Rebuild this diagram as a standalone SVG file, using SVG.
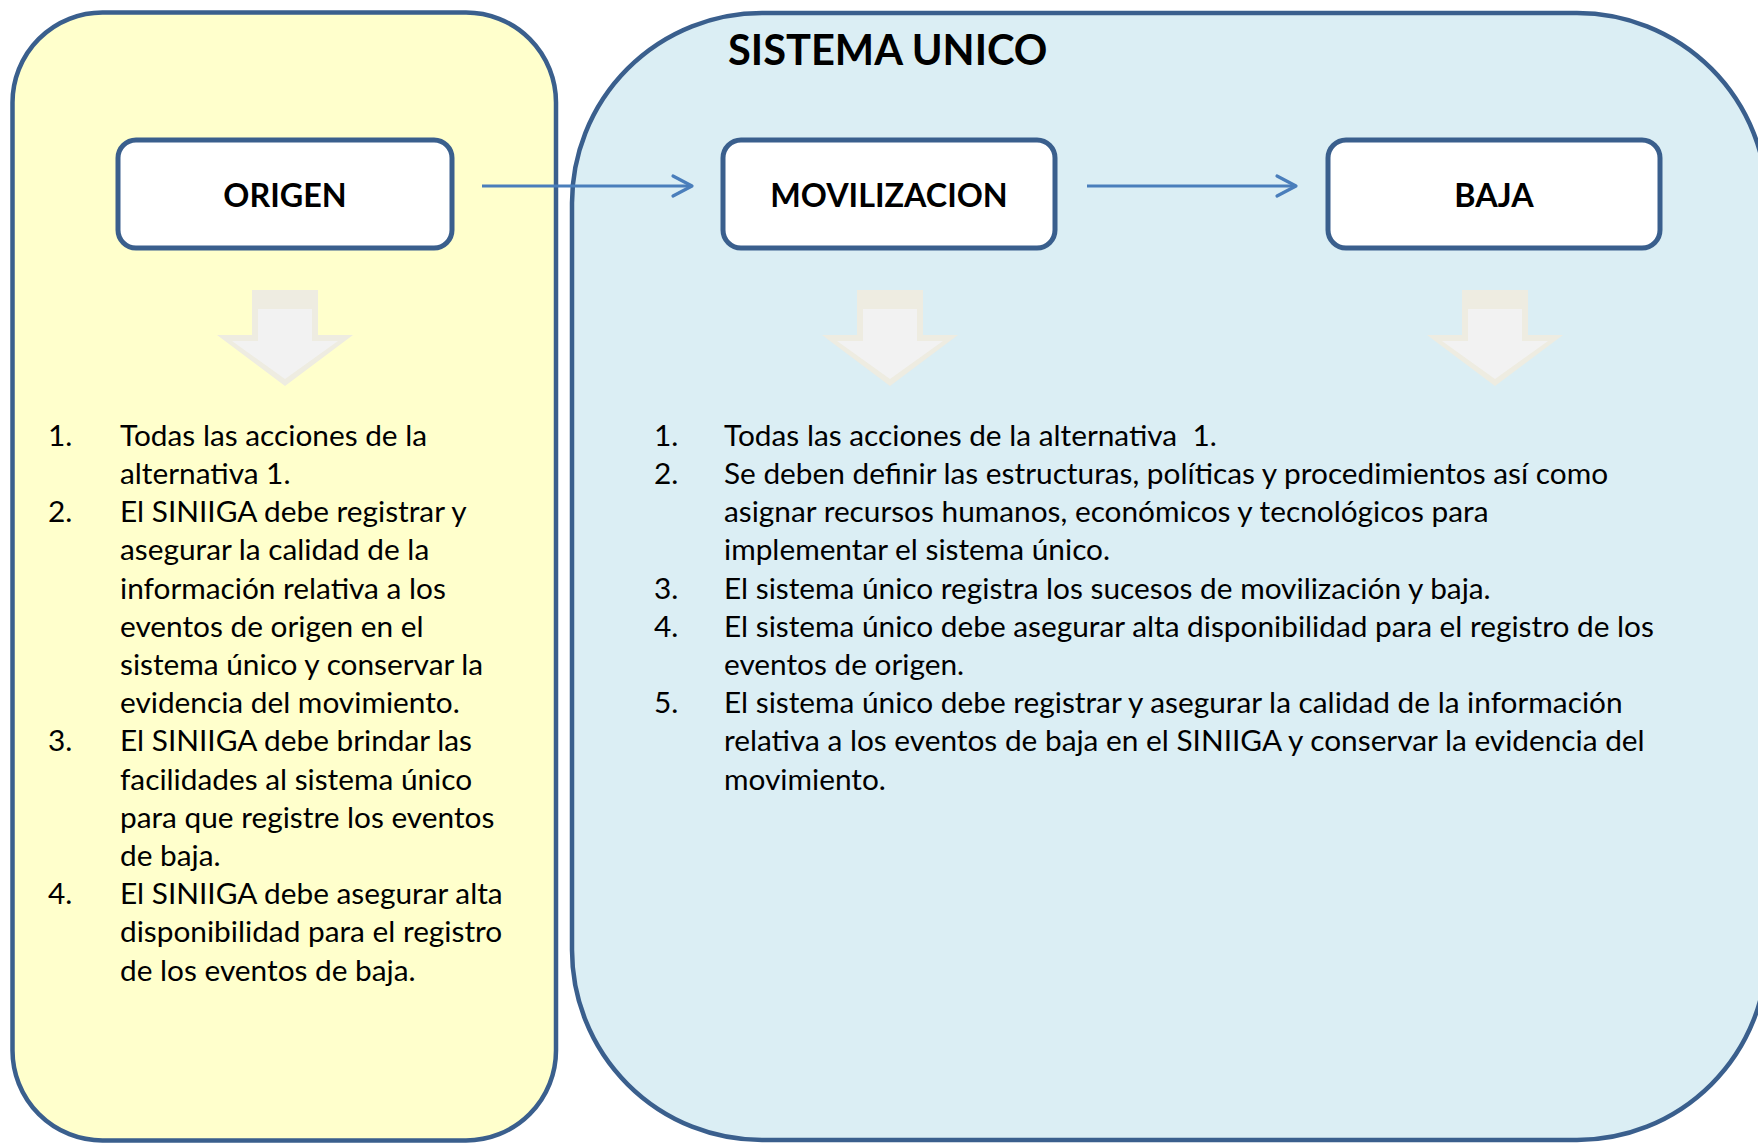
<svg xmlns="http://www.w3.org/2000/svg" width="1758" height="1143" viewBox="0 0 1758 1143">
<defs>
<style>
.panel{stroke:#3A5F8D;stroke-width:4.5}
.box{fill:#FFFFFF;stroke:#3A5F8D;stroke-width:5}
.lbl{font-family:Lato,"Open Sans","Liberation Sans",sans-serif;font-weight:bold;font-size:32.3px;fill:#000;text-anchor:middle}
.title{font-family:Lato,"Open Sans","Liberation Sans",sans-serif;font-weight:bold;font-size:41.6px;fill:#000}
.body{font-family:Lato,"Open Sans","Liberation Sans",sans-serif;font-size:29.8px;fill:#000}
.pre{white-space:pre}
.conn{stroke:#4A7EBB;stroke-width:3.2;fill:none}
.head{stroke:#4A7EBB;stroke-width:3.2;fill:none;stroke-linecap:round;stroke-linejoin:round}
.dout{fill:#EEECE1}
.din{fill:#F2F2F2}
</style>
<g id="downArrow">
<polygon class="dout" points="-33,290 33,290 33,335 68,335 0,386 -68,335 -33,335"/>
<polygon class="din" points="-27,309 27,309 27,341 53,341 0,379 -53,341 -27,341"/>
</g>
</defs>
<g id="panel-origen">
<rect class="panel" x="12.5" y="12.5" width="543.5" height="1128" rx="90" ry="90" fill="#FFFFCC"/>
</g>
<g id="panel-sistema">
<rect class="panel" x="572" y="13" width="1195" height="1127" rx="190" ry="190" fill="#DBEEF4"/>
<text class="title" x="728" y="65">SISTEMA UNICO</text>
</g>
<g id="connectors">
<line class="conn" x1="482" y1="186" x2="691" y2="186"/>
<polyline class="head" points="673,176 692,186 673,196"/>
<line class="conn" x1="1087" y1="186" x2="1295" y2="186"/>
<polyline class="head" points="1277,176 1296,186 1277,196"/>
</g>
<g id="node-origen">
<rect class="box" x="118" y="140" width="334" height="108" rx="18" ry="18"/>
<text class="lbl" x="285" y="207">ORIGEN</text>
</g>
<g id="node-movilizacion">
<rect class="box" x="723" y="140" width="332" height="108" rx="18" ry="18"/>
<text class="lbl" x="889" y="207">MOVILIZACION</text>
</g>
<g id="node-baja">
<rect class="box" x="1328" y="140" width="332" height="108" rx="18" ry="18"/>
<text class="lbl" x="1494" y="207">BAJA</text>
</g>
<g id="down-arrows">
<use href="#downArrow" x="285"/>
<use href="#downArrow" x="890"/>
<use href="#downArrow" x="1495"/>
</g>
<g id="list-origen" class="body">
<text x="48" y="446">1.</text><text x="120" y="446">Todas las acciones de la</text>
<text x="120" y="484">alternativa 1.</text>
<text x="48" y="522">2.</text><text x="120" y="522">El SINIIGA debe registrar y</text>
<text x="120" y="560">asegurar la calidad de la</text>
<text x="120" y="599">información relativa a los</text>
<text x="120" y="637">eventos de origen en el</text>
<text x="120" y="675">sistema único y conservar la</text>
<text x="120" y="713">evidencia del movimiento.</text>
<text x="48" y="751">3.</text><text x="120" y="751">El SINIIGA debe brindar las</text>
<text x="120" y="790">facilidades al sistema único</text>
<text x="120" y="828">para que registre los eventos</text>
<text x="120" y="866">de baja.</text>
<text x="48" y="904">4.</text><text x="120" y="904">El SINIIGA debe asegurar alta</text>
<text x="120" y="942">disponibilidad para el registro</text>
<text x="120" y="981">de los eventos de baja.</text>
</g>
<g id="list-sistema" class="body">
<text x="654" y="446">1.</text><text class="pre" x="724" y="446">Todas las acciones de la alternativa  1.</text>
<text x="654" y="484">2.</text><text x="724" y="484">Se deben definir las estructuras, políticas y procedimientos así como</text>
<text x="724" y="522">asignar recursos humanos, económicos y tecnológicos para</text>
<text x="724" y="560">implementar el sistema único.</text>
<text x="654" y="599">3.</text><text x="724" y="599">El sistema único registra los sucesos de movilización y baja.</text>
<text x="654" y="637">4.</text><text x="724" y="637">El sistema único debe asegurar alta disponibilidad para el registro de los</text>
<text x="724" y="675">eventos de origen.</text>
<text x="654" y="713">5.</text><text x="724" y="713">El sistema único debe registrar y asegurar la calidad de la información</text>
<text x="724" y="751">relativa a los eventos de baja en el SINIIGA y conservar la evidencia del</text>
<text x="724" y="790">movimiento.</text>
</g>
</svg>
